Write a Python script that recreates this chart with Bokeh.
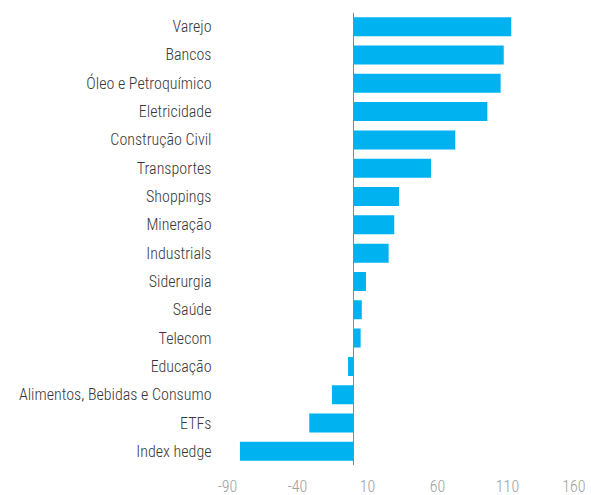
from bokeh.plotting import figure
from bokeh.models import FactorRange, Range1d, FixedTicker, Span
from bokeh.embed import file_html
from bokeh.resources import INLINE

categories = ["Varejo", "Bancos", "Óleo e Petroquímico", "Eletricidade", "Construção Civil",
              "Transportes", "Shoppings", "Mineração", "Industrials", "Siderurgia", "Saúde",
              "Telecom", "Educação", "Alimentos, Bebidas e Consumo", "ETFs", "Index hedge"]
values = [112.7, 107.3, 105.1, 95.6, 72.7, 55.4, 32.5, 29.1, 25.1, 8.9, 5.9, 5.1, -3.9, -15.4, -31.6, -81.1]
x_ticks = [-90, -40, 10, 60, 110, 160]
x_tick_labels = ["-90", "-40", "10", "60", "110", "160"]

FONT = "Roboto Condensed Light"

p = figure(width=585, height=494, output_backend="svg", toolbar_location=None,
           y_range=FactorRange(*list(reversed(categories))),
           x_range=Range1d(-90, 160),
           min_border_left=227, min_border_right=8, min_border_top=12, min_border_bottom=29)

p.hbar(y=categories, left=0, right=values, height=0.67, color="#00B2F0", line_color=None)

p.add_layout(Span(location=0, dimension="height", line_color="#888888", line_width=1))

p.xaxis.ticker = FixedTicker(ticks=x_ticks)
p.xaxis.major_label_overrides = {t: l for t, l in zip(x_ticks, x_tick_labels)}
p.xaxis.axis_line_color = None
p.xaxis.major_tick_line_color = None
p.xaxis.minor_tick_line_color = None
p.xaxis.major_tick_out = 0
p.xaxis.major_tick_in = 0
p.xaxis.major_label_text_color = "#a0a0a0"
p.xaxis.major_label_text_font = FONT
p.xaxis.major_label_text_font_size = "16px"
p.xaxis.major_label_standoff = 14

p.yaxis.axis_line_color = None
p.yaxis.major_tick_line_color = None
p.yaxis.minor_tick_line_color = None
p.yaxis.major_tick_out = 0
p.yaxis.major_tick_in = 0
p.yaxis.major_label_text_color = "#383838"
p.yaxis.major_label_text_font = FONT
p.yaxis.major_label_text_font_size = "16px"
p.yaxis.major_label_standoff = 16

p.xgrid.grid_line_color = None
p.ygrid.grid_line_color = None
p.outline_line_color = None

open("out.html", "w").write(file_html(p, INLINE))
